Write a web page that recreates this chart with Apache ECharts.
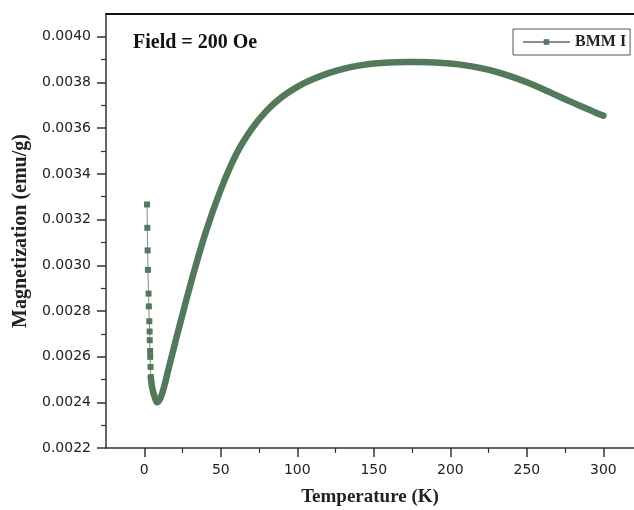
<!DOCTYPE html>
<html>
<head>
<meta charset="utf-8">
<script src="https://cdn.jsdelivr.net/npm/echarts@6/dist/echarts.min.js"></script>
<style>
  html, body { margin: 0; padding: 0; background: #fff; }
  #chart { width: 634px; height: 510px; }
</style>
</head>
<body>
<div id="chart"></div>
<script>
// Low-temperature points (K, emu/g), drawn as individual square markers
const lowTemp = [1.8, 2.0, 2.2, 2.4, 2.8, 3.0, 3.3, 3.5, 3.6, 3.8, 3.9, 4.1, 4.3];
const lowMag  = [0.003266, 0.003164, 0.003065, 0.00298, 0.002876, 0.00282, 0.002755,
                 0.00271, 0.002672, 0.002625, 0.002599, 0.002555, 0.00251];

// Densely sampled part of the M(T) curve
const curveTemp = [4.3, 5, 6, 7, 8.3, 10, 12, 14, 16, 20, 30, 40, 50, 60, 70, 80, 90, 100,
                   110, 120, 130, 140, 150, 160, 170, 180, 190, 200, 210, 220, 230, 240,
                   250, 260, 270, 280, 290, 295, 300];
const curveMag  = [0.00251, 0.00247, 0.00244, 0.00242, 0.0024, 0.00241, 0.002445, 0.002495,
                   0.00255, 0.002656, 0.002911, 0.003141, 0.003331, 0.003485, 0.003595,
                   0.003677, 0.003737, 0.003781, 0.003814, 0.00384, 0.00386, 0.003874,
                   0.003883, 0.003888, 0.00389, 0.00389, 0.003888, 0.003883, 0.003875,
                   0.003863, 0.003847, 0.003826, 0.003801, 0.003773, 0.003742, 0.003712,
                   0.003683, 0.003668, 0.003655];

// Tick positions and labels
const xTicks = [0, 50, 100, 150, 200, 250, 300];
const xMinorTicks = [25, 75, 125, 175, 225, 275];
const yTicks = [0.0022, 0.0024, 0.0026, 0.0028, 0.0030, 0.0032, 0.0034, 0.0036, 0.0038, 0.0040];
const yMinorTicks = [0.0023, 0.0025, 0.0027, 0.0029, 0.0031, 0.0033, 0.0035, 0.0037, 0.0039];

const green = '#54785a';
const axisColor = '#333';
const serif = 'Liberation Serif';
const sans = 'DejaVu Sans';

const chart = echarts.init(document.getElementById('chart'), null, { renderer: 'canvas' });

const gridBox = { left: 106, right: 0, top: 14, bottom: 62, outerBoundsMode: 'none', containLabel: false };

chart.setOption({
  animation: false,
  backgroundColor: '#fff',
  title: {
    text: 'Field = 200 Oe',
    left: 133,
    top: 33,
    padding: 0,
    textStyle: { fontFamily: serif, fontWeight: 'bold', fontSize: 20, color: '#111' }
  },
  legend: {
    data: ['BMM I'],
    left: 513,
    top: 29,
    itemWidth: 47,
    itemHeight: 7,
    padding: [5, 4, 5, 9],
    borderColor: '#555',
    borderWidth: 1,
    selectedMode: false,
    textStyle: { fontFamily: serif, fontWeight: 'bold', fontSize: 16, color: '#222' }
  },
  grid: [Object.assign({}, gridBox), Object.assign({}, gridBox)],
  xAxis: [
    {
      gridIndex: 0,
      type: 'value',
      min: -25,
      max: 320,
      position: 'bottom',
      name: 'Temperature (K)',
      nameLocation: 'middle',
      nameGap: 40,
      nameTextStyle: { fontFamily: serif, fontWeight: 'bold', fontSize: 19, color: '#222' },
      axisLine: { show: true, onZero: false, lineStyle: { color: axisColor, width: 1.5 } },
      axisTick: { show: true, customValues: xTicks, length: 9, lineStyle: { color: axisColor, width: 1.5 } },
      axisLabel: { customValues: xTicks, margin: 15, fontFamily: sans, fontSize: 14, color: '#222' },
      splitLine: { show: false }
    },
    {
      gridIndex: 0,
      type: 'value',
      min: -25,
      max: 320,
      position: 'top',
      axisLine: { show: true, onZero: false, lineStyle: { color: '#111', width: 2 } },
      axisTick: { show: false },
      axisLabel: { show: false },
      splitLine: { show: false }
    },
    {
      gridIndex: 1,
      type: 'value',
      min: -25,
      max: 320,
      position: 'bottom',
      axisLine: { show: false, onZero: false },
      axisTick: { show: true, customValues: xMinorTicks, length: 5, lineStyle: { color: axisColor, width: 1.2 } },
      axisLabel: { show: false },
      splitLine: { show: false }
    }
  ],
  yAxis: [
    {
      gridIndex: 0,
      type: 'value',
      min: 0.0022,
      max: 0.0041,
      position: 'left',
      name: 'Magnetization (emu/g)',
      nameLocation: 'middle',
      nameRotate: 90,
      nameGap: 73,
      nameTextStyle: { fontFamily: serif, fontWeight: 'bold', fontSize: 20, color: '#222' },
      axisLine: { show: true, onZero: false, lineStyle: { color: axisColor, width: 1.5 } },
      axisTick: { show: true, customValues: yTicks, length: 9, lineStyle: { color: axisColor, width: 1.5 } },
      axisLabel: {
        customValues: yTicks,
        margin: 15,
        fontFamily: sans,
        fontSize: 14,
        color: '#222',
        formatter: v => v.toFixed(4)
      },
      splitLine: { show: false }
    },
    {
      gridIndex: 1,
      type: 'value',
      min: 0.0022,
      max: 0.0041,
      position: 'left',
      axisLine: { show: false, onZero: false },
      axisTick: { show: true, customValues: yMinorTicks, length: 5, lineStyle: { color: axisColor, width: 1.2 } },
      axisLabel: { show: false },
      splitLine: { show: false }
    }
  ],
  series: [
    {
      name: 'BMM I',
      type: 'line',
      xAxisIndex: 0,
      yAxisIndex: 0,
      data: lowTemp.map((t, i) => [t, lowMag[i]]),
      symbol: 'rect',
      symbolSize: 6,
      showAllSymbol: true,
      lineStyle: { color: '#8c8c8c', width: 1 },
      itemStyle: { color: green },
      z: 3
    },
    {
      name: 'BMM I',
      type: 'line',
      xAxisIndex: 0,
      yAxisIndex: 0,
      data: curveTemp.map((t, i) => [t, curveMag[i]]),
      smooth: 0.3,
      showSymbol: false,
      lineStyle: { color: green, width: 6.5, cap: 'round', join: 'round' },
      itemStyle: { color: green },
      z: 2
    }
  ]
});
</script>
</body>
</html>
